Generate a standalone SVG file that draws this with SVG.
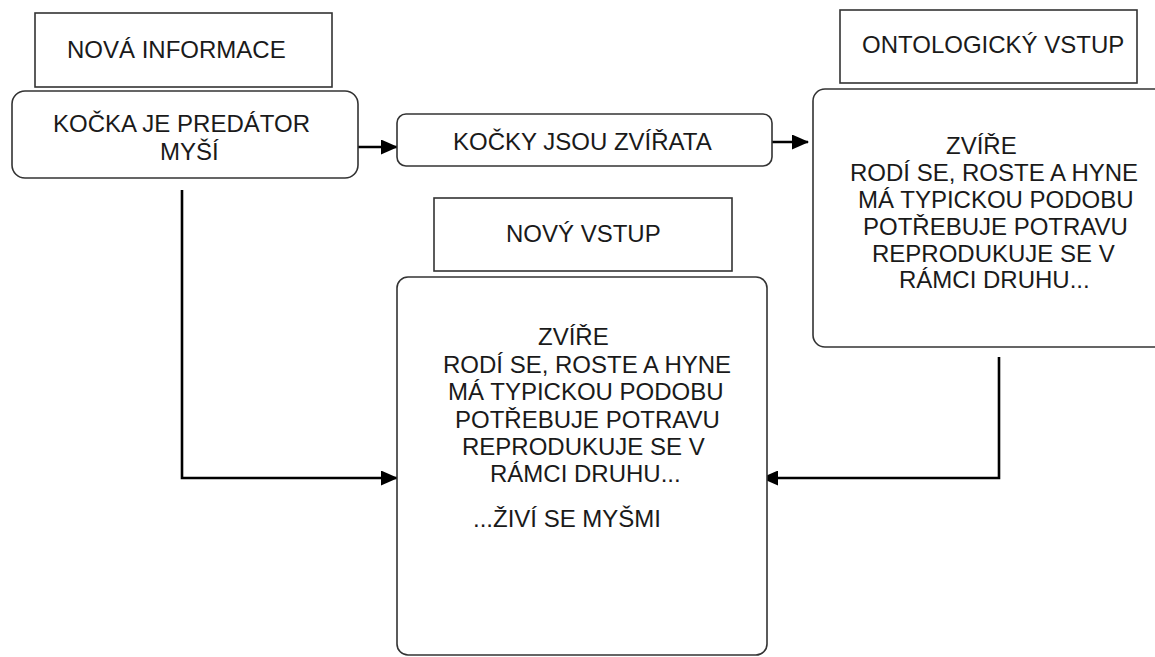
<svg xmlns="http://www.w3.org/2000/svg" width="1155" height="657" viewBox="0 0 1155 657">
<style>
.box{fill:#fff;stroke:#333;stroke-width:1.6}
.t{font-family:"Liberation Sans",Arial,sans-serif;font-size:24px;fill:#1a1a1a}
.c{fill:none;stroke:#000;stroke-width:2.6}
</style>
<defs>
<marker id="ah" viewBox="0 0 17 15" refX="16" refY="7.5" markerWidth="17" markerHeight="15" markerUnits="userSpaceOnUse" orient="auto">
<path d="M0,0 L17,7.5 L0,15 Z" fill="#000"/>
</marker>
</defs>
<rect width="1155" height="657" fill="#fff"/>
<g id="connectors">
<path class="c" d="M350,147 H397" marker-end="url(#ah)"/>
<path class="c" d="M758,142 H808" marker-end="url(#ah)"/>
<path class="c" d="M182,190 V478 H397" marker-end="url(#ah)"/>
<path class="c" d="M999,357 V478 H762" marker-end="url(#ah)"/>
</g>
<g id="nova-informace">
<rect class="box" x="35" y="13" width="297" height="74"/>
<text class="t" x="67" y="58">NOVÁ INFORMACE</text>
</g>
<g id="kocka-predator">
<rect class="box" x="12" y="91" width="346" height="87" rx="13"/>
<text class="t" x="53" y="132">KOČKA JE PREDÁTOR</text>
<text class="t" x="160" y="160">MYŠÍ</text>
</g>
<g id="kocky-zvirata">
<rect class="box" x="397" y="114" width="375" height="52" rx="9"/>
<text class="t" x="453" y="150">KOČKY JSOU ZVÍŘATA</text>
</g>
<g id="ontologicky-vstup">
<rect class="box" x="840" y="10" width="297" height="73"/>
<text class="t" x="862" y="53">ONTOLOGICKÝ VSTUP</text>
</g>
<g id="ontologie">
<rect class="box" x="813" y="89" width="360" height="258" rx="12"/>
<text class="t" x="946" y="154">ZVÍŘE</text>
<text class="t" x="850" y="181">RODÍ SE, ROSTE A HYNE</text>
<text class="t" x="858" y="208">MÁ TYPICKOU PODOBU</text>
<text class="t" x="863" y="235">POTŘEBUJE POTRAVU</text>
<text class="t" x="872" y="262">REPRODUKUJE SE V</text>
<text class="t" x="899" y="288">RÁMCI DRUHU...</text>
</g>
<g id="novy-vstup">
<rect class="box" x="434" y="198" width="298" height="73"/>
<text class="t" x="506" y="242">NOVÝ VSTUP</text>
</g>
<g id="novy">
<rect class="box" x="397" y="277" width="370" height="378" rx="11"/>
<text class="t" x="538" y="345">ZVÍŘE</text>
<text class="t" x="443" y="373">RODÍ SE, ROSTE A HYNE</text>
<text class="t" x="448" y="400">MÁ TYPICKOU PODOBU</text>
<text class="t" x="455" y="428">POTŘEBUJE POTRAVU</text>
<text class="t" x="462" y="455">REPRODUKUJE SE V</text>
<text class="t" x="490" y="482">RÁMCI DRUHU...</text>
<text class="t" x="473" y="527">...ŽIVÍ SE MYŠMI</text>
</g>
</svg>
